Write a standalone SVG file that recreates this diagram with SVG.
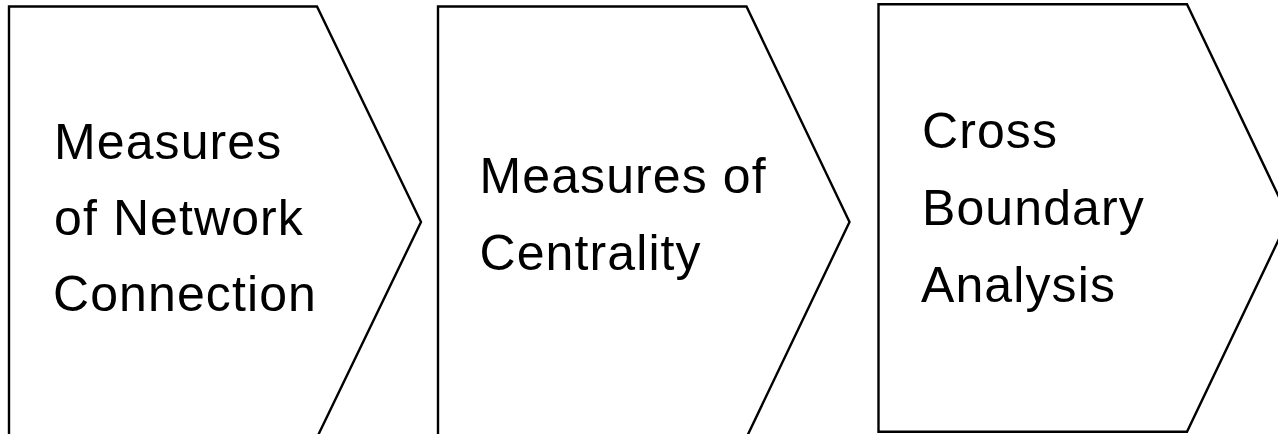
<svg xmlns="http://www.w3.org/2000/svg" width="1278" height="434" viewBox="0 0 1278 434">
<style>
.shape{fill:#ffffff;stroke:#000000;stroke-width:2.4;stroke-linejoin:miter}
.lbl{font-family:"Liberation Sans",Arial,sans-serif;font-size:50px;fill:#000000;letter-spacing:1.1px}
</style>
<rect x="0" y="0" width="1278" height="434" fill="#ffffff"/>
<g id="connectors"></g>
<g id="node1">
<path class="shape" d="M9,6.5 L317,6.5 L421,222 L317,437.5 L9,437.5 Z"/>
<text class="lbl" x="54" y="159">Measures</text>
<text class="lbl" x="54" y="235">of Network</text>
<text class="lbl" x="53" y="311">Connection</text>
</g>
<g id="node2">
<path class="shape" d="M438,6.5 L746.5,6.5 L849.5,222 L746.5,437.5 L438,437.5 Z"/>
<text class="lbl" x="479.5" y="193">Measures of</text>
<text class="lbl" x="479.5" y="270">Centrality</text>
</g>
<g id="node3">
<path class="shape" d="M878.5,4.3 L1187,4.3 L1289,218 L1187,431.7 L878.5,431.7 Z"/>
<text class="lbl" x="922" y="148">Cross</text>
<text class="lbl" x="922" y="225">Boundary</text>
<text class="lbl" x="921" y="302">Analysis</text>
</g>
</svg>
